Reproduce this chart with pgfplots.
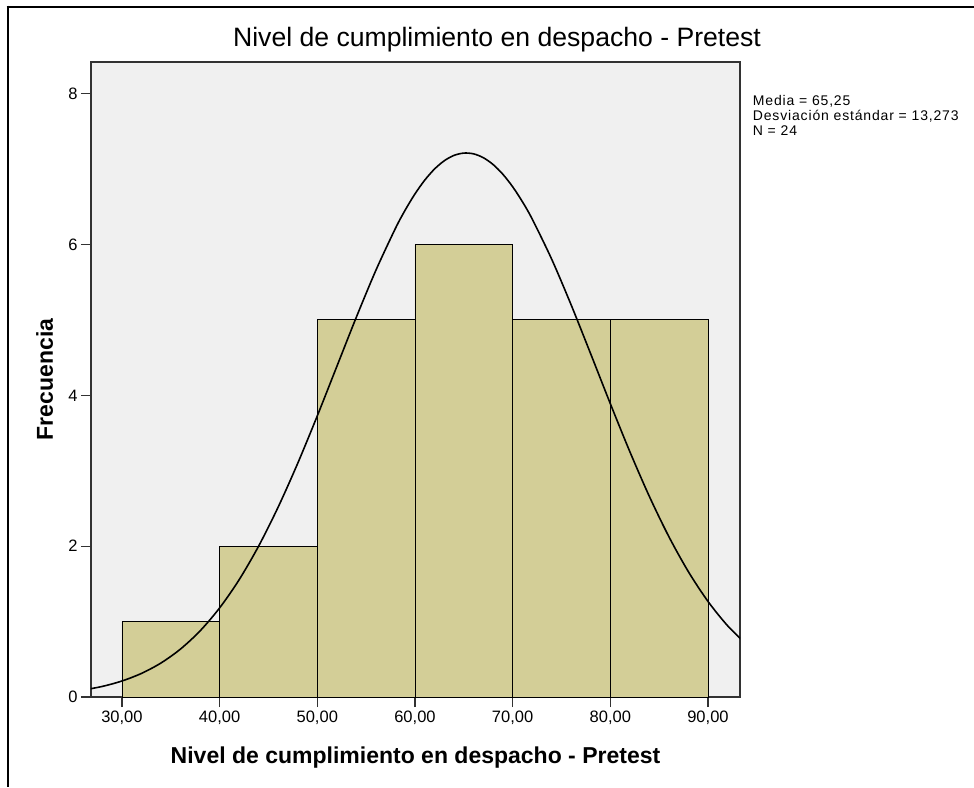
\documentclass[border=0pt]{standalone}
\usepackage{fontspec}
\setmainfont{Liberation Sans}
\newfontfamily\statfont[LetterSpace=6]{Liberation Sans}
\usepackage{pgfplots}
\pgfplotsset{compat=1.18}
\definecolor{barfill}{RGB}{211,206,151}
\definecolor{bgfill}{RGB}{240,240,240}
\definecolor{axline}{RGB}{50,50,50}
\begin{document}
\begin{tikzpicture}
\useasboundingbox (-91pt,-90pt) rectangle (883pt,697pt);
\begin{axis}[
  at={(0pt,0pt)}, anchor=south west,
  scale only axis,
  width=649pt, height=635pt,
  xmin=26.83, xmax=93.28,
  ymin=0, ymax=8.42,
  axis background/.style={fill=bgfill},
  axis line style={draw=axline, line width=1.4pt},
  xtick={30,40,50,60,70,80,90},
  xticklabels={{30,00},{40,00},{50,00},{60,00},{70,00},{80,00},{90,00}},
  ytick={0,2,4,6,8},
  xtick pos=bottom, ytick pos=left,
  tick align=outside,
  major tick length=10pt,
  tick style={draw=axline, line width=1.2pt},
  /pgf/number format/assume math mode=true,
  ticklabel style={font=\fontsize{16.5}{19}\selectfont, text=black},
  title={Nivel de cumplimiento en despacho - Pretest},
  title style={at={(axis description cs:0.6256,1.0142)}, anchor=base, font=\fontsize{26.6}{30}\selectfont},
  xlabel={Nivel de cumplimiento en despacho - Pretest},
  xlabel style={at={(axis description cs:0.5,-0.1047)}, anchor=base, font=\bfseries\fontsize{23}{27}\selectfont},
  ylabel={Frecuencia},
  ylabel style={at={(axis description cs:-0.0586,0.5)}, anchor=base, font=\bfseries\fontsize{23}{27}\selectfont},
]
\addplot[ybar interval, fill=barfill, draw=black, line width=0.9pt]
  coordinates {(30,1) (40,2) (50,5) (60,6) (70,5) (80,5) (90,5)};
\addplot[black, line width=1.6pt, smooth, no marks] coordinates {
(26,0.0911) (28,0.1406) (30,0.2122) (32,0.3129) (34,0.4513) (36,0.6363)
(38,0.8769) (40,1.1814) (42,1.5554) (44,2.0024) (46,2.5201) (48,3.1002)
(50,3.7281) (52,4.3829) (54,5.0369) (56,5.6582) (58,6.2139) (59,6.4566)
(60,6.6708) (61,6.8531) (62,7.0006) (63,7.1107) (64,7.1817) (65,7.2123)
(66,7.2021) (67,7.1512) (68,7.0604) (69,6.9314) (70,6.7661) (71,6.5675)
(72,6.3386) (74,5.8047) (76,5.1965) (78,4.5475) (80,3.8904) (82,3.2534)
(84,2.6596) (86,2.1255) (88,1.6604) (90,1.2680) (92,0.9465) (94,0.6907)
};
\end{axis}
\draw[line width=2.6pt, black] (-84.3pt,690pt) -- (883pt,690pt);
\draw[line width=2pt, black] (-83pt,691.3pt) -- (-83pt,-90pt);
\begin{scope}[every node/.style={anchor=base west, inner sep=0pt, font=\statfont\fontsize{14}{16}\selectfont}]
\node at (661.7pt,591pt) {Media = 65,25};
\node at (661.7pt,576.3pt) {Desviación estándar = 13,273};
\node at (661.7pt,561.6pt) {N = 24};
\end{scope}
\end{tikzpicture}
\end{document}
